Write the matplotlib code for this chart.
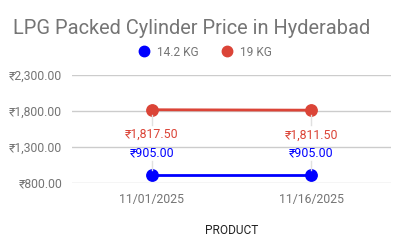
import matplotlib
matplotlib.use("Agg")
import matplotlib.pyplot as plt
from matplotlib.lines import Line2D
from matplotlib.transforms import offset_copy

plt.rcParams['font.family'] = ['Roboto', 'DejaVu Sans']

categories = ["11/01/2025", "11/16/2025"]
series_names = ["14.2 KG", "19 KG"]
values_142 = [905.00, 905.00]
values_19 = [1817.50, 1811.50]
yticks = [800, 1300, 1800, 2300]

colors = ["#0000ff", "#db4437"]

W, H = 404, 250
fig = plt.figure(figsize=(W / 100, H / 100), dpi=100)
left, right, top, bottom = 72, 391, 75, 183
ax = fig.add_axes([left / W, 1 - bottom / H, (right - left) / W, (bottom - top) / H])

x = list(range(len(categories)))
ax.set_xlim(-0.5, len(categories) - 0.5)
ax.set_ylim(800, 2300)

def fmt(v):
    return "\u20b9{:,.2f}".format(v)

for vals, c, off in [(values_142, colors[0], 22), (values_19, colors[1], -25)]:
    ax.plot(x, vals, color=c, lw=2, marker='o', markersize=8.2, zorder=3, clip_on=False)
    for xi, v in zip(x, vals):
        ax.annotate(fmt(v), (xi, v), xytext=(0, off * 0.72), textcoords='offset points',
                    ha='center', va='center', color=c, fontsize=8.9)
        s0 = 5 if off > 0 else -5
        s1 = 14 if off > 0 else -15
        tr0 = offset_copy(ax.transData, fig=fig, x=0, y=s0 * 0.72, units='points')
        tr1 = offset_copy(ax.transData, fig=fig, x=0, y=s1 * 0.72, units='points')
        p0 = tr0.transform((xi, v)); p1 = tr1.transform((xi, v))
        fig.add_artist(Line2D([p0[0] / W, p1[0] / W], [p0[1] / H, p1[1] / H],
                              transform=fig.transFigure, color="#e0e0e0", lw=1, zorder=1))

ax.set_yticks(yticks)
ax.set_yticklabels([fmt(v) for v in yticks])
ax.set_xticks(x)
ax.set_xticklabels(categories)
ax.grid(axis='y', color="#cccccc", lw=1)
ax.set_axisbelow(True)
for s in ax.spines.values():
    s.set_visible(False)
ax.tick_params(length=0, colors="#757575", labelsize=8.8)
ax.tick_params(axis='y', pad=7)
ax.tick_params(axis='x', pad=7)

fig.text(13 / W, 1 - 28 / H, "LPG Packed Cylinder Price in Hyderabad", fontsize=14.4,
         color="#757575", va='center', ha='left')
fig.text(231.5 / W, 1 - 231 / H, "PRODUCT", fontsize=8.6, color="#222222", ha='center', va='center')

handles = [Line2D([], [], marker='o', ls='', color=c, markersize=7.5) for c in colors]
fig.legend(handles, series_names, loc='center', bbox_to_anchor=(205 / W, 1 - 52 / H),
           ncol=2, frameon=False, fontsize=8.6, labelcolor="#757575", handletextpad=0.6,
           columnspacing=1.9, handlelength=1.0)

fig.savefig("out.png", dpi=100)
